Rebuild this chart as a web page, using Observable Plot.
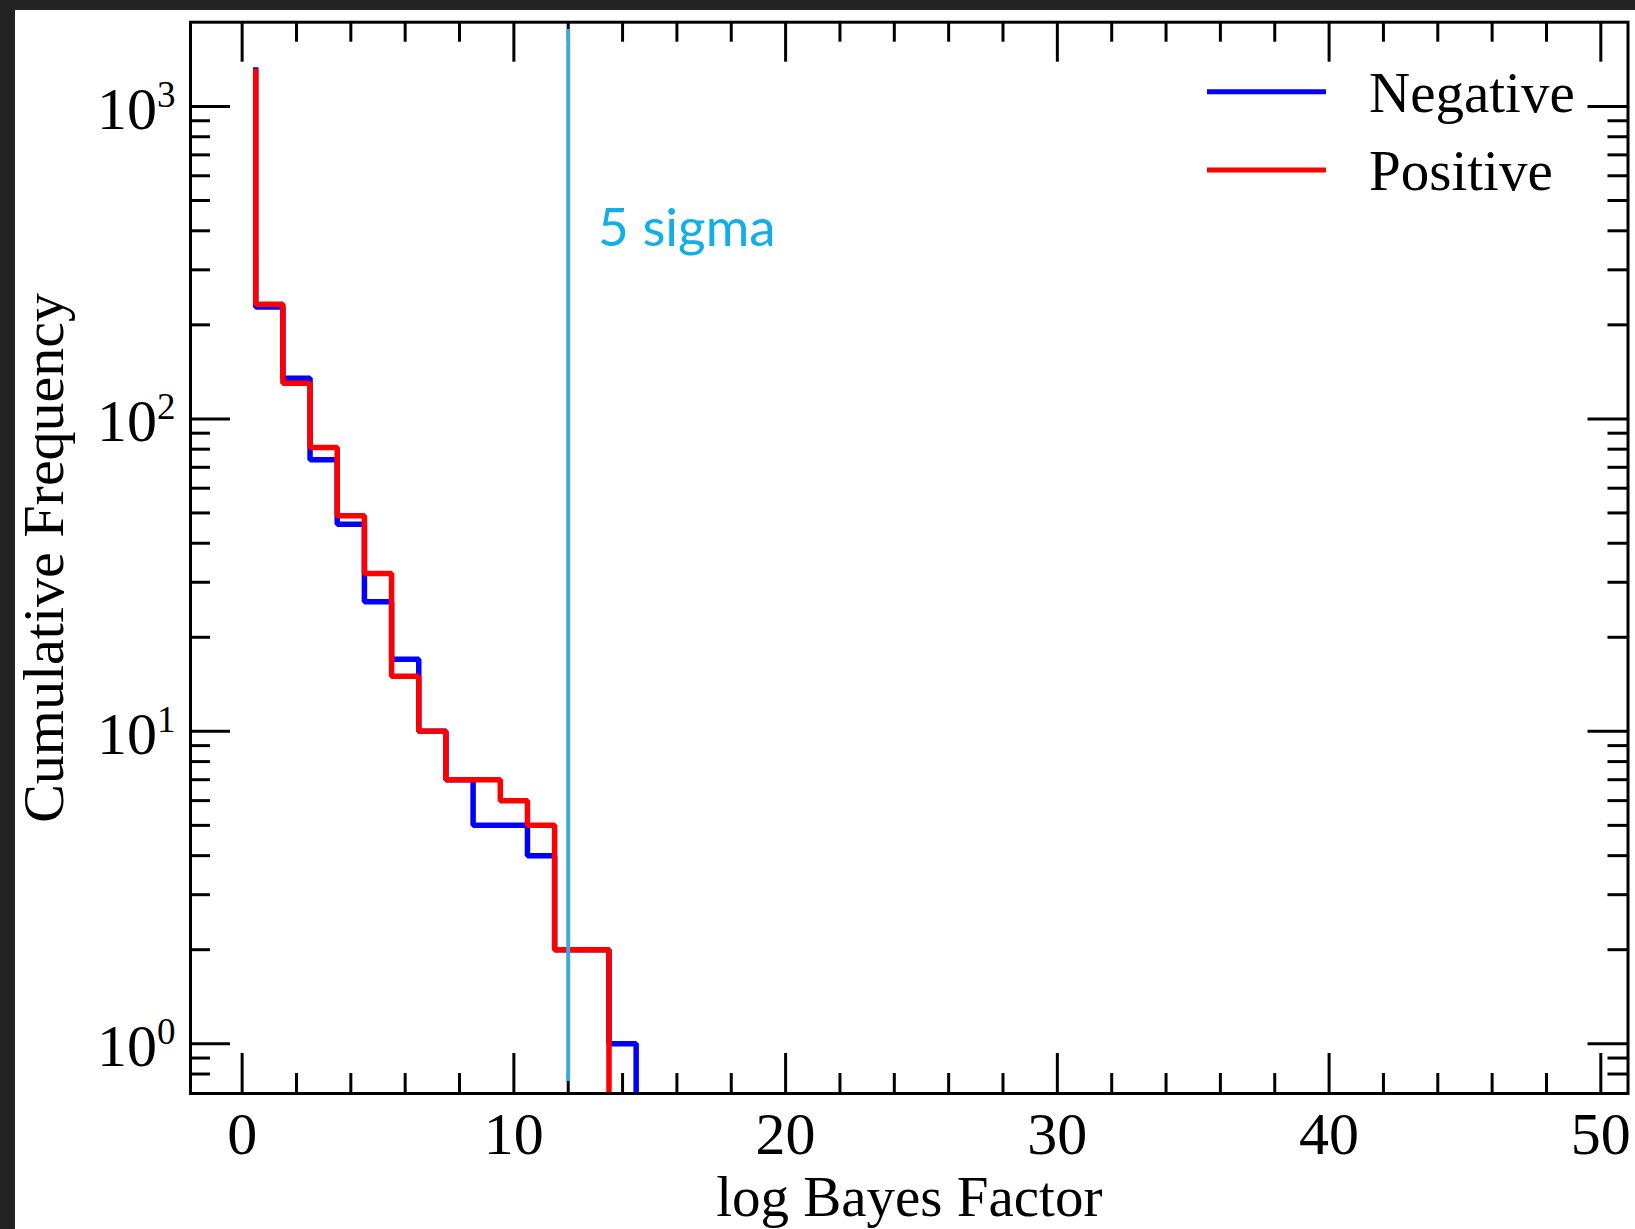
<!DOCTYPE html>
<html><head><meta charset="utf-8">
<script src="https://cdn.jsdelivr.net/npm/d3@7"></script>
<script src="https://cdn.jsdelivr.net/npm/@observablehq/plot@0.6"></script>
<style>
html,body{margin:0;padding:0;background:#232323;width:1635px;height:1229px;overflow:hidden;}
#panel{position:absolute;left:15px;top:10px;width:1620px;height:1219px;background:#fff;}
#chart{position:absolute;left:0;top:0;width:1635px;height:1229px;}
</style></head><body><div id="panel"></div><div id="chart"></div>
<script>
// ---- data ----
const binEdges = [0.5, 1.5, 2.5, 3.5, 4.5, 5.5, 6.5, 7.5, 8.5, 9.5, 10.5, 11.5, 12.5, 13.5, 14.5];
const negativeTotal = 1335;
const positiveTotal = 1320;
const negativeCounts = [228, 135, 74, 46, 26, 17, 10, 7, 5, 5, 4, 2, 2, 1];
const positiveCounts = [233, 130, 81, 49, 32, 15, 10, 7, 7, 6, 5, 2, 2, 0];
const sigma5 = [12];
const sigma5Span = [0.757, 1764];
const annotations = [{x: 13.1, y: 357, text: "5 sigma"}];
const xTicks = [0, 10, 20, 30, 40, 50];
const xMinor = [2, 4, 6, 8, 12, 14, 16, 18, 22, 24, 26, 28, 32, 34, 36, 38, 42, 44, 46, 48];
const yTicks = [1, 10, 100, 1000];
const yMinor = [0.8, 0.9, 2, 3, 4, 5, 6, 7, 8, 9, 20, 30, 40, 50, 60, 70, 80, 90, 200, 300, 400, 500, 600, 700, 800, 900];
const xDomain = [-1.9, 51.0];
const yDomain = [0.693, 1861];
const seriesNames = ["Negative", "Positive"];
const seriesColors = ["#0000ff", "#ff0000"];

// ---- layout ----
const W = 1635, H = 1229;
const mL = 190, mR = 7.5, mT = 21.7, mB = 136;
const fw = W - mL - mR, fh = H - mT - mB;
const major = 40, minor = 20;
const serif = "'Liberation Serif', 'Times New Roman', serif";

function steps(total, counts) {
  const pts = [{x: binEdges[0], y: total}];
  for (let i = 0; i < counts.length; i++) {
    if (counts[i] <= 0) { pts.push({x: binEdges[i], y: yDomain[0]}); return pts; }
    pts.push({x: binEdges[i], y: counts[i]});
  }
  pts.push({x: binEdges[counts.length], y: yDomain[0]});
  return pts;
}
const negSteps = steps(negativeTotal, negativeCounts);
const posSteps = steps(positiveTotal, positiveCounts);

const tk = {stroke: "black", strokeWidth: 3};
const chart = Plot.plot({
  width: W, height: H,
  marginLeft: mL, marginRight: mR, marginTop: mT, marginBottom: mB,
  style: {fontFamily: serif, background: "transparent", color: "black"},
  x: {domain: xDomain, axis: null},
  y: {type: "log", domain: yDomain, axis: null},
  marks: [
    // ticks, inward, on all four sides
    Plot.ruleX(xTicks, {x: d => d, insetTop: fh - major, ...tk}),
    Plot.ruleX(xTicks, {x: d => d, insetBottom: fh - major, ...tk}),
    Plot.ruleX(xMinor, {x: d => d, insetTop: fh - minor, ...tk}),
    Plot.ruleX(xMinor, {x: d => d, insetBottom: fh - minor, ...tk}),
    Plot.ruleY(yTicks, {y: d => d, insetRight: fw - major, ...tk}),
    Plot.ruleY(yTicks, {y: d => d, insetLeft: fw - major, ...tk}),
    Plot.ruleY(yMinor, {y: d => d, insetRight: fw - minor, ...tk}),
    Plot.ruleY(yMinor, {y: d => d, insetLeft: fw - minor, ...tk}),
    Plot.axisX(xTicks, {tickSize: 0, tickPadding: 18, fontSize: 60, label: null, tickFormat: d => String(d)}),
    Plot.axisY(yTicks, {tickSize: 0, tickPadding: 15, fontSize: 60, label: null, dy: 3, tickFormat: d => "E" + Math.round(Math.log10(d))}),
    Plot.line(negSteps, {x: "x", y: "y", curve: "step-after", stroke: seriesColors[0], strokeWidth: 5.5, strokeLinejoin: "miter", strokeLinecap: "butt", clip: true}),
    Plot.line(posSteps, {x: "x", y: "y", curve: "step-after", stroke: seriesColors[1], strokeWidth: 5.5, strokeLinejoin: "miter", strokeLinecap: "butt", clip: true}),
    Plot.ruleX(sigma5, {x: d => d, y1: sigma5Span[0], y2: sigma5Span[1], stroke: "#3da9dc", strokeWidth: 4}),
    Plot.text(annotations, {x: "x", y: "y", text: "text", textAnchor: "start", lineAnchor: "bottom", fill: "#12aeea", fontSize: 53, fontFamily: "Lato, 'Open Sans', sans-serif", letterSpacing: "8px"}),
    Plot.frame({stroke: "black", strokeWidth: 3}),
    Plot.text(["log Bayes Factor"], {frameAnchor: "bottom", textAnchor: "middle", lineAnchor: "bottom", dy: 122, fontSize: 57, fill: "black"}),
    Plot.text(["Cumulative Frequency"], {frameAnchor: "left", textAnchor: "middle", lineAnchor: "bottom", rotate: -90, dx: -128, fontSize: 58, fill: "black"})
  ]
});
document.getElementById("chart").appendChild(chart);

// superscript exponents for y tick labels
const svg = d3.select(chart);
svg.selectAll("text").each(function() {
  const t = d3.select(this);
  const s = t.text();
  if (/^E-?\d+$/.test(s)) {
    t.text(null);
    t.append("tspan").text("10");
    t.append("tspan").attr("dy", -22).attr("font-size", 37).text(s.slice(1));
  }
});

// legend
const lg = svg.append("g").attr("font-family", serif).attr("font-size", 57).attr("text-anchor", "start");
seriesNames.forEach((name, i) => {
  const yLine = 91.7 + i * 78.3;
  lg.append("line").attr("x1", 1207).attr("x2", 1326).attr("y1", yLine).attr("y2", yLine)
    .attr("stroke", seriesColors[i]).attr("stroke-width", 5);
  lg.append("text").attr("x", 1369).attr("y", yLine + 20).attr("fill", "black").attr("text-anchor", "start").text(name);
});
</script></body></html>
